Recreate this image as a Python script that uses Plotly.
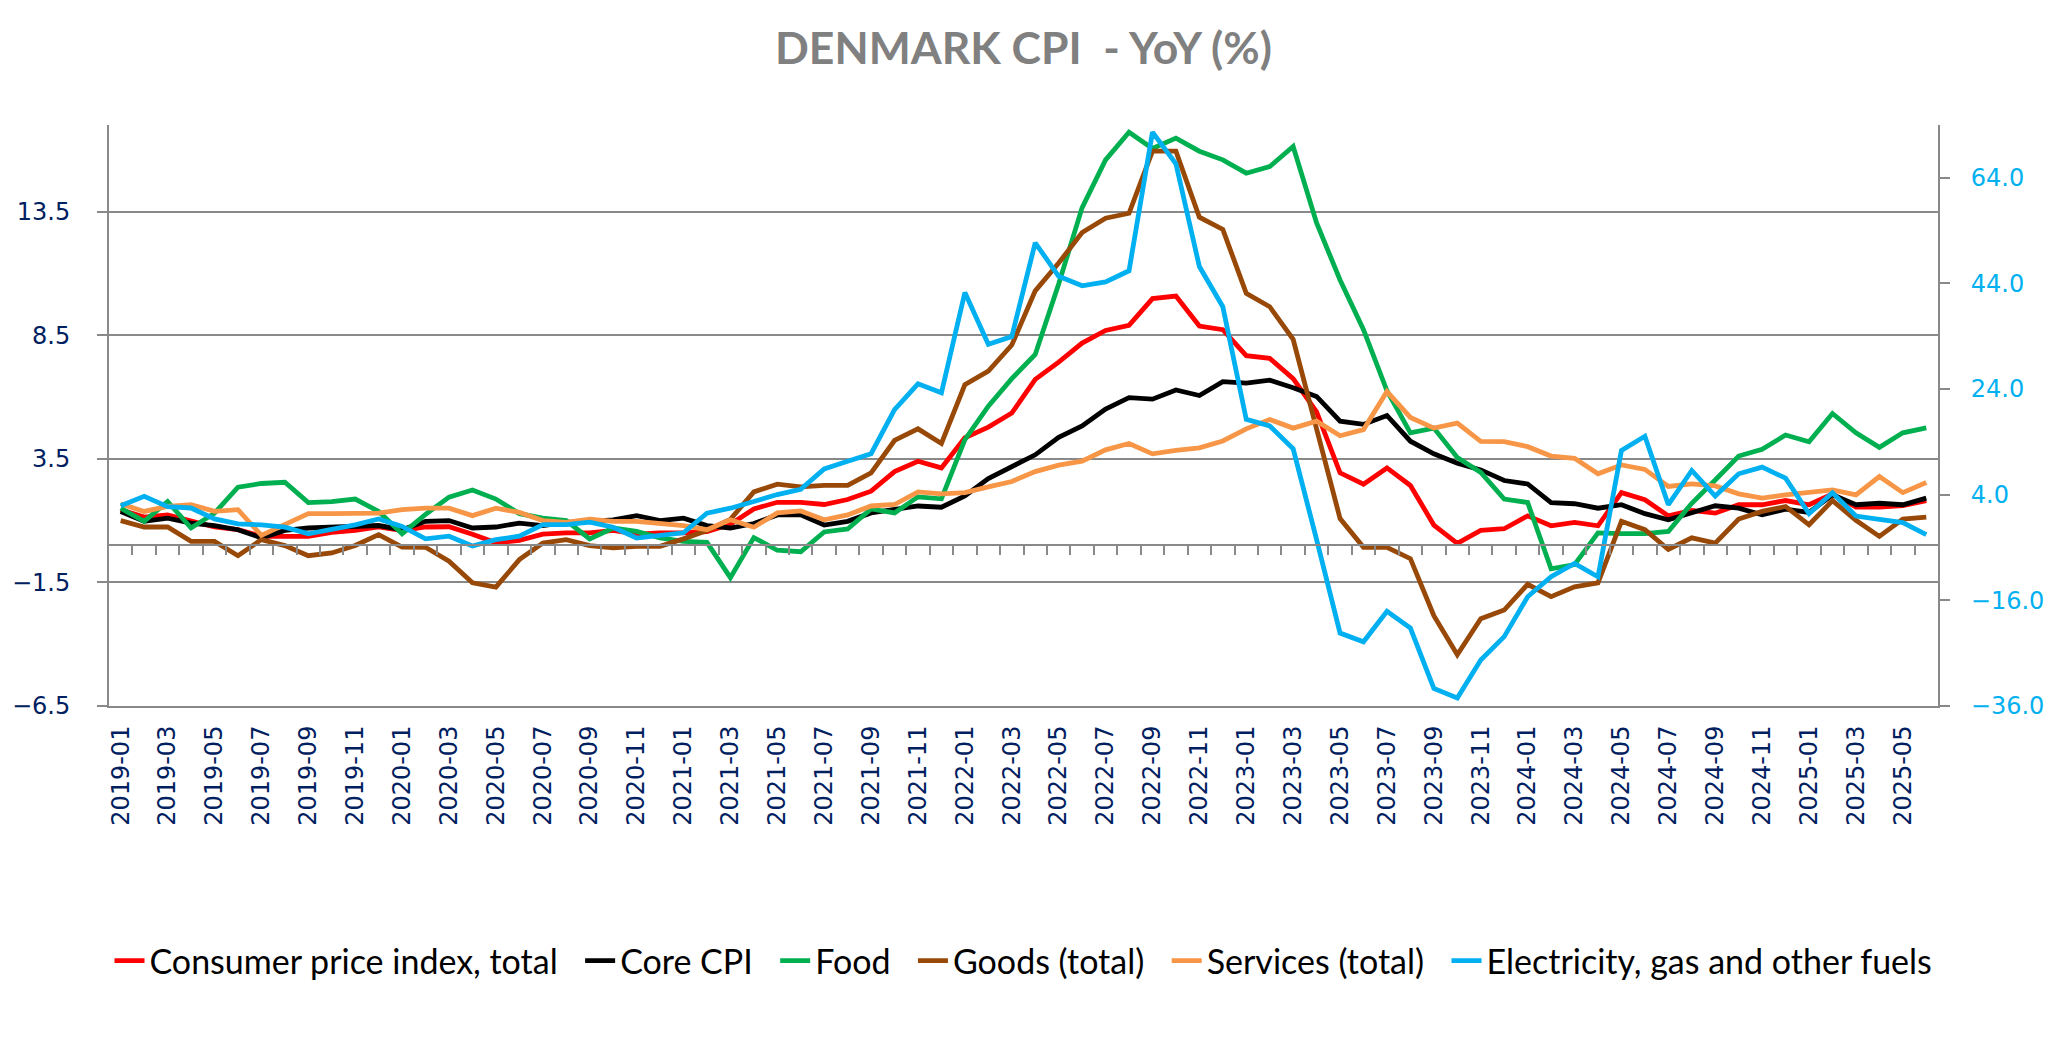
import plotly.graph_objects as go

months = [
    "2019-01","2019-02","2019-03","2019-04","2019-05","2019-06","2019-07","2019-08","2019-09","2019-10","2019-11","2019-12",
    "2020-01","2020-02","2020-03","2020-04","2020-05","2020-06","2020-07","2020-08","2020-09","2020-10","2020-11","2020-12",
    "2021-01","2021-02","2021-03","2021-04","2021-05","2021-06","2021-07","2021-08","2021-09","2021-10","2021-11","2021-12",
    "2022-01","2022-02","2022-03","2022-04","2022-05","2022-06","2022-07","2022-08","2022-09","2022-10","2022-11","2022-12",
    "2023-01","2023-02","2023-03","2023-04","2023-05","2023-06","2023-07","2023-08","2023-09","2023-10","2023-11","2023-12",
    "2024-01","2024-02","2024-03","2024-04","2024-05","2024-06","2024-07","2024-08","2024-09","2024-10","2024-11","2024-12",
    "2025-01","2025-02","2025-03","2025-04","2025-05","2025-06",
]

cpi_total = [
    1.44,1.14,1.23,0.97,0.74,0.63,0.36,0.36,0.36,0.52,0.6,0.74,
    0.6,0.74,0.75,0.45,0.1,0.2,0.45,0.5,0.5,0.6,0.45,0.5,
    0.5,0.55,0.85,1.47,1.74,1.74,1.65,1.85,2.19,2.98,3.4,3.13,
    4.35,4.78,5.35,6.71,7.41,8.18,8.69,8.9,9.98,10.08,8.87,8.72,
    7.67,7.56,6.74,5.4,2.93,2.47,3.13,2.42,0.82,0.08,0.6,0.67,
    1.19,0.79,0.93,0.79,2.13,1.84,1.19,1.41,1.3,1.64,1.64,1.81,
    1.64,2.08,1.54,1.54,1.6,1.81,
]
core_cpi = [
    1.37,0.97,1.1,0.9,0.8,0.63,0.3,0.6,0.7,0.74,0.74,0.8,
    0.63,0.97,1.0,0.7,0.74,0.9,0.8,0.93,0.97,1.03,1.2,1.0,
    1.1,0.8,0.7,0.88,1.23,1.23,0.82,0.97,1.31,1.47,1.59,1.54,
    2.0,2.7,3.19,3.66,4.37,4.83,5.51,5.97,5.91,6.28,6.06,6.62,
    6.56,6.68,6.37,6.02,5.02,4.89,5.25,4.21,3.7,3.32,3.05,2.62,
    2.48,1.73,1.68,1.5,1.64,1.28,1.03,1.3,1.6,1.5,1.23,1.46,
    1.33,2.04,1.64,1.7,1.64,1.91,
]
food = [
    1.5,0.97,1.77,0.7,1.3,2.35,2.5,2.55,1.73,1.77,1.87,1.37,
    0.47,1.25,1.95,2.24,1.87,1.28,1.1,1.0,0.26,0.7,0.56,0.3,
    0.16,0.12,-1.31,0.31,-0.2,-0.26,0.54,0.66,1.47,1.31,1.96,1.88,
    4.27,5.63,6.74,7.72,10.57,13.66,15.59,16.71,16.05,16.47,15.94,15.59,
    15.05,15.32,16.13,13.04,10.73,8.72,6.25,4.55,4.74,3.55,2.95,1.87,
    1.73,-0.95,-0.78,0.5,0.47,0.47,0.56,1.7,2.64,3.61,3.88,4.46,
    4.19,5.33,4.55,3.96,4.55,4.75,
]
goods = [
    1.0,0.74,0.74,0.16,0.16,-0.42,0.23,-0.01,-0.42,-0.31,-0.01,0.43,
    -0.07,-0.08,-0.64,-1.52,-1.69,-0.58,0.09,0.23,-0.01,-0.1,-0.04,-0.04,
    0.26,0.6,1.05,2.16,2.47,2.36,2.42,2.42,2.93,4.24,4.71,4.12,
    6.5,7.05,8.1,10.29,11.42,12.65,13.23,13.43,15.94,15.94,13.27,12.78,
    10.19,9.65,8.33,4.71,1.08,-0.08,-0.08,-0.54,-2.85,-4.43,-2.97,-2.62,
    -1.58,-2.08,-1.68,-1.52,0.97,0.63,-0.17,0.3,0.09,1.06,1.37,1.57,
    0.83,1.81,1.01,0.36,1.06,1.14,
]
services = [
    1.68,1.37,1.57,1.64,1.37,1.44,0.4,0.83,1.28,1.28,1.28,1.3,
    1.44,1.5,1.5,1.2,1.5,1.33,1.0,0.93,1.06,0.97,0.97,0.87,
    0.8,0.63,1.03,0.73,1.31,1.39,1.03,1.23,1.59,1.65,2.16,2.08,
    2.13,2.36,2.58,2.98,3.24,3.4,3.86,4.12,3.7,3.84,3.94,4.22,
    4.71,5.09,4.74,5.02,4.43,4.68,6.22,5.17,4.74,4.94,4.2,4.19,
    3.99,3.61,3.52,2.89,3.25,3.07,2.38,2.48,2.4,2.08,1.91,2.04,
    2.13,2.24,2.04,2.78,2.13,2.54,
]
electricity = [
    1.93,3.69,1.74,1.49,-0.58,-1.52,-1.71,-2.15,-3.4,-2.6,-1.7,-0.6,
    -2.0,-4.35,-3.85,-5.7,-4.5,-3.85,-1.65,-1.65,-1.2,-2.15,-4.2,-3.7,
    -3.2,0.5,1.45,2.71,4.03,5.04,8.9,10.33,11.77,20.1,25.0,23.3,
    42.3,32.5,33.95,51.7,45.35,43.55,44.3,46.4,72.65,66.65,47.2,39.6,
    18.26,17.03,12.7,-4.5,-22.2,-23.85,-18.08,-21.26,-32.67,-34.47,-27.3,-22.86,
    -15.31,-11.53,-9.02,-11.53,12.36,15.07,2.11,8.59,3.75,7.96,9.22,7.14,
    0.42,4.38,-0.03,-0.65,-1.28,-3.55,
]

left_ticks = [-6.5, -1.5, 3.5, 8.5, 13.5]
right_ticks = [-36.0, -16.0, 4.0, 24.0, 44.0, 64.0]
left_range = [-6.5, 17.0]
right_range = [-36.0, 74.0]

series_left = [
    ("Consumer price index, total", cpi_total, "#FF0000"),
    ("Core CPI", core_cpi, "#000000"),
    ("Food", food, "#00B050"),
    ("Goods (total)", goods, "#984807"),
    ("Services (total)", services, "#F79646"),
]

idx = list(range(len(months)))
GRID = "#898989"
NAVY = "#002060"
BLUE = "#00B0F0"
TICKFONT = "DejaVu Sans"
PAD = "\u00a0\u00a0"

fig = go.Figure()
for name, vals, col in series_left:
    fig.add_trace(go.Scatter(x=idx, y=vals, name=name + PAD, mode="lines",
                             line=dict(color=col, width=4.8),
                             xaxis="x", yaxis="y"))
fig.add_trace(go.Scatter(x=idx, y=electricity, name="Electricity, gas and other fuels",
                         mode="lines", line=dict(color=BLUE, width=4.8),
                         xaxis="x2", yaxis="y2"))

xr = [-0.5, len(months) - 0.5]
zero_pos = (0 - left_range[0]) / (left_range[1] - left_range[0])

fig.update_layout(
    width=2056, height=1054,
    margin=dict(l=103, r=102, t=125, b=348),
    paper_bgcolor="white", plot_bgcolor="white",
    title=dict(text="<b>DENMARK CPI\u00a0 - YoY (%)</b>", x=0.5, xanchor="center",
               xref="paper", y=1 - 48 / 1054, yanchor="middle",
               font=dict(family="Lato", size=44.5, color="#808080")),
    xaxis=dict(range=xr, tickmode="array", tickvals=idx[::2], ticktext=months[::2],
               tickangle=-90, tickfont=dict(family=TICKFONT, size=24, color=NAVY),
               showgrid=False, zeroline=False, showline=True, linecolor=GRID, linewidth=2,
               ticks="", ticklabelstandoff=8),
    xaxis2=dict(range=xr, overlaying="x", anchor="free", position=zero_pos,
                tickmode="array", tickvals=[i + 0.5 for i in idx[:-1]],
                ticks="outside", ticklen=9, tickwidth=2, tickcolor=GRID,
                showticklabels=False, showgrid=False, zeroline=False,
                showline=True, linecolor=GRID, linewidth=2),
    yaxis=dict(range=left_range, tickmode="array", tickvals=left_ticks, tickformat=".1f",
               tickfont=dict(family=TICKFONT, size=24, color=NAVY),
               showgrid=True, gridcolor=GRID, gridwidth=2, zeroline=False,
               showline=True, linecolor=GRID, linewidth=2,
               ticks="outside", ticklen=10, tickwidth=2, tickcolor=GRID,
               ticklabelstandoff=22),
    yaxis2=dict(range=right_range, overlaying="y", side="right", anchor="x2",
                tickmode="array", tickvals=right_ticks, tickformat=".1f",
                tickfont=dict(family=TICKFONT, size=24, color=BLUE),
                showgrid=False, zeroline=False,
                showline=True, linecolor=GRID, linewidth=2,
                ticks="outside", ticklen=10, tickwidth=2, tickcolor=GRID,
                ticklabelstandoff=16),
    legend=dict(orientation="h", x=0.5, xanchor="center",
                y=(706 - 961) / 581, yanchor="middle",
                font=dict(family="Lato", size=34, color="#000000"),
                itemwidth=30, bgcolor="rgba(0,0,0,0)"),
    showlegend=True,
)

fig.write_html("out.html", config={"displayModeBar": False},
               post_script="document.body.style.margin='0';document.body.style.overflow='hidden';")
